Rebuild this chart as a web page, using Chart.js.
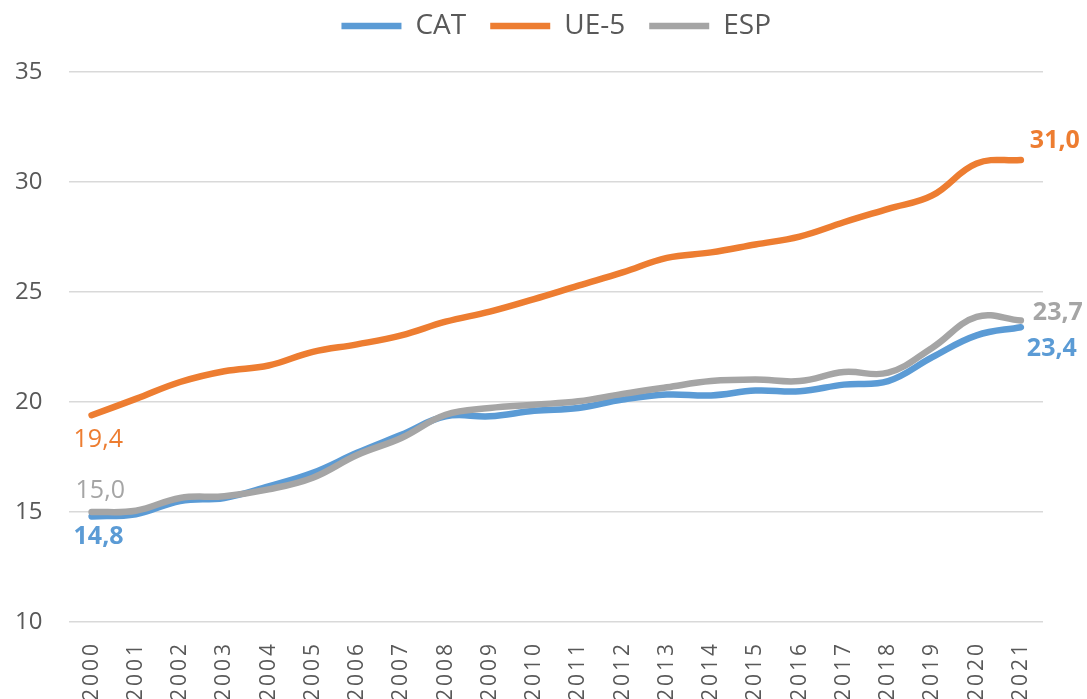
<!DOCTYPE html>
<html>
<head>
<meta charset="utf-8">
<script src="https://cdn.jsdelivr.net/npm/chart.js@4.4.1/dist/chart.umd.min.js"></script>
<style>
  html, body { margin: 0; padding: 0; background: #fff; overflow: hidden; }
  #wrap { position: relative; width: 1087px; height: 722px; }
</style>
</head>
<body>
<div id="wrap"><canvas id="chart"></canvas></div>
<script>
// dades llegides del gràfic
var years = ['2000', '2001', '2002', '2003', '2004', '2005', '2006', '2007', '2008', '2009', '2010',
             '2011', '2012', '2013', '2014', '2015', '2016', '2017', '2018', '2019', '2020', '2021'];
var cat = [14.8, 14.9, 15.5, 15.64, 16.17, 16.78, 17.69, 18.51, 19.35, 19.35, 19.6,
           19.73, 20.11, 20.34, 20.3, 20.52, 20.49, 20.79, 20.95, 22.04, 23.03, 23.4];
var ue5 = [19.4, 20.14, 20.91, 21.4, 21.66, 22.28, 22.62, 23.03, 23.65, 24.11, 24.68,
           25.29, 25.89, 26.55, 26.8, 27.16, 27.52, 28.17, 28.78, 29.39, 30.84, 31.0];
var esp = [15.0, 15.06, 15.64, 15.72, 16.03, 16.56, 17.59, 18.36, 19.42, 19.73, 19.88,
           20.03, 20.37, 20.67, 20.95, 21.02, 20.95, 21.36, 21.33, 22.47, 23.87, 23.7];
var yMin = 10, yMax = 35, yStep = 5;

var FONT = '"Open Sans", "Noto Sans", sans-serif';
var TEXT = '#595959';

// etiquetes de valor al principi i al final de cada sèrie
var endLabels = [
  { ds: 1, i: 0,  dx: -18, dy: 25,  bold: false },
  { ds: 2, i: 0,  dx: -16, dy: -21, bold: false },
  { ds: 0, i: 0,  dx: -18, dy: 20,  bold: true },
  { ds: 1, i: 21, dx: 9,   dy: -19, bold: true },
  { ds: 2, i: 21, dx: 12,  dy: -8,  bold: true },
  { ds: 0, i: 21, dx: 6,   dy: 22,  bold: true }
];

function fmt(v) { return v.toFixed(1).replace('.', ','); }

var endLabelsPlugin = {
  id: 'endLabels',
  afterDatasetsDraw: function (chart) {
    var ctx = chart.ctx;
    ctx.save();
    ctx.textAlign = 'left';
    ctx.textBaseline = 'middle';
    endLabels.forEach(function (l) {
      var ds = chart.data.datasets[l.ds];
      var pt = chart.getDatasetMeta(l.ds).data[l.i];
      if (!pt) return;
      ctx.font = (l.bold ? 'bold ' : '') + '25px ' + FONT;
      ctx.fillStyle = ds.borderColor;
      ctx.fillText(fmt(ds.data[l.i]), pt.x + l.dx, pt.y + l.dy);
    });
    ctx.restore();
  }
};

// petits retocs: espai sota la llegenda i etiquetes de l'eix X més espaiades
var tweaksPlugin = {
  id: 'tweaks',
  beforeLayout: function (chart) {
    var lg = chart.legend;
    if (lg && !lg._gapPatched) {
      var fit = lg.fit;
      lg.fit = function () { fit.call(this); this.height += 22; };
      lg._gapPatched = true;
    }
  },
  beforeDraw: function (chart) {
    var xs = chart.scales.x;
    if (xs && !xs._spacingPatched) {
      var draw = xs.drawLabels;
      xs.drawLabels = function (area) {
        var c = this.ctx;
        c.save();
        c.letterSpacing = '3px';
        draw.call(this, area);
        c.restore();
      };
      xs._spacingPatched = true;
    }
  }
};

function series(label, data, color, order) {
  return {
    label: label,
    data: data,
    borderColor: color,
    backgroundColor: color,
    borderWidth: 6.5,
    borderCapStyle: 'round',
    borderJoinStyle: 'round',
    pointRadius: 0,
    pointHoverRadius: 0,
    tension: 0.4,
    fill: false,
    clip: false,
    order: order
  };
}

new Chart(document.getElementById('chart'), {
  type: 'line',
  data: {
    labels: years,
    datasets: [
      series('CAT', cat, '#5B9BD5', 3),
      series('UE-5', ue5, '#ED7D31', 2),
      series('ESP', esp, '#A5A5A5', 1)
    ]
  },
  plugins: [endLabelsPlugin, tweaksPlugin],
  options: {
    responsive: true,
    maintainAspectRatio: false,
    animation: false,
    events: [],
    layout: { padding: { top: -12, left: -12, right: 44, bottom: 0 } },
    plugins: {
      tooltip: { enabled: false },
      legend: {
        position: 'top',
        fullSize: false,
        labels: {
          usePointStyle: true,
          pointStyle: 'line',
          pointStyleWidth: 60,
          boxHeight: 7,
          padding: 24,
          color: TEXT,
          font: { family: FONT, size: 28 },
          sort: function (a, b) { return a.datasetIndex - b.datasetIndex; }
        }
      }
    },
    scales: {
      x: {
        offset: true,
        grid: { display: false },
        border: { display: false },
        ticks: {
          color: TEXT,
          font: { family: FONT, size: 21 },
          minRotation: 90,
          maxRotation: 90,
          autoSkip: false,
          padding: 11
        },
        afterFit: function (scale) {
          scale.height = 100;
          scale.paddingLeft = 0;
          scale.paddingRight = 0;
        }
      },
      y: {
        min: yMin,
        max: yMax,
        grid: { color: '#D9D9D9', lineWidth: 1.5, drawTicks: false },
        border: { display: false },
        ticks: {
          stepSize: yStep,
          color: TEXT,
          font: { family: FONT, size: 24 },
          padding: 27
        }
      }
    }
  }
});
</script>
</body>
</html>
